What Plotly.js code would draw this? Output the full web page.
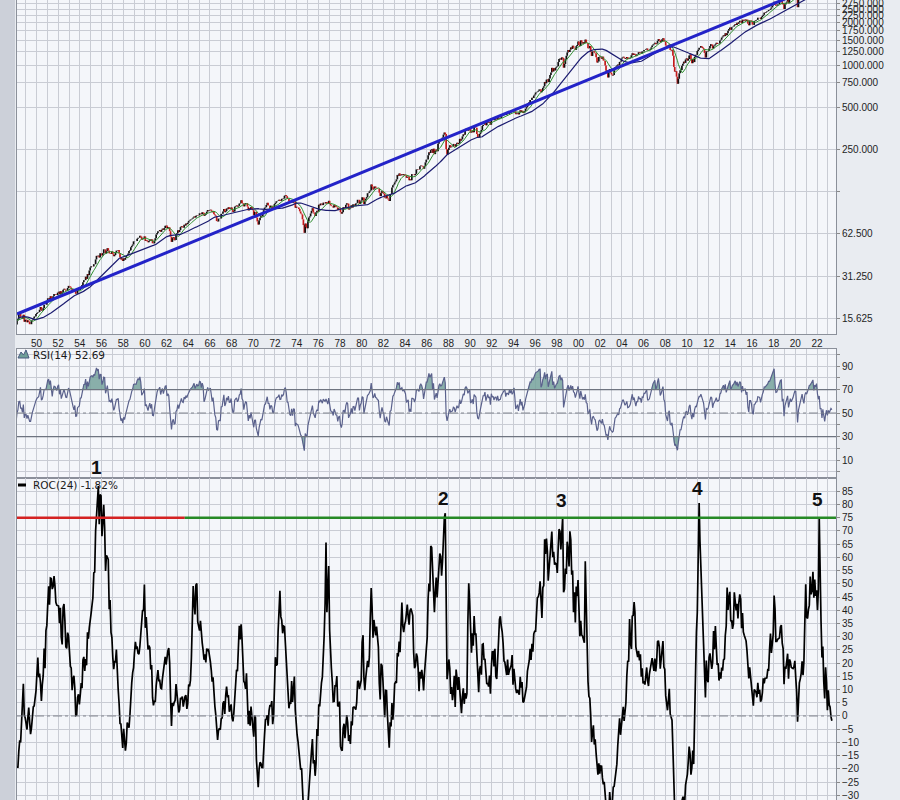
<!DOCTYPE html>
<html><head><meta charset="utf-8">
<script src="https://cdn.plot.ly/plotly-3.0.1.min.js"></script>
<style>html,body{margin:0;padding:0;background:#e9ecf1;}#chart{width:900px;height:800px;}</style>
</head><body><div id="chart"></div>
<script>
// ---- monthly closes (read/estimated), first value = Jan 1945 ----
const firstYear = 1945;
const closes1945to1949 = [
13.49,13.94,13.34,14.74,14.90,14.53,14.27,14.99,15.87,16.66,17.33,17.36,
18.66,17.52,18.70,19.20,19.25,18.43,17.75,16.52,14.96,14.75,14.69,15.30,
15.66,15.41,15.17,14.28,14.49,15.21,15.77,15.46,15.06,15.45,15.14,15.30,
14.69,14.10,15.08,15.48,16.69,16.74,15.97,15.97,15.49,16.54,14.75,15.20,
15.22,14.62,15.06,14.74,14.16,14.16,15.04,15.22,15.58,16.04,16.12,16.76];
const closes1950s = [
17.05,17.22,17.29,17.96,18.78,17.69,17.84,18.42,19.45,19.53,19.51,20.41,
21.66,21.80,21.40,22.43,21.52,20.96,22.40,23.28,23.26,22.94,22.88,23.77,
24.14,23.26,24.37,23.32,23.86,24.96,25.40,25.03,24.54,24.52,25.66,26.57,
26.38,25.90,25.29,24.62,24.54,24.14,24.75,23.32,23.35,24.54,24.76,24.81,
26.08,26.15,26.94,28.26,29.19,29.21,30.88,29.83,32.31,31.68,34.24,35.98,
36.63,36.76,36.58,37.96,37.91,41.03,43.52,43.18,43.67,42.34,45.51,45.48,
43.82,45.34,48.48,48.38,45.20,46.97,49.39,47.51,45.35,45.58,45.08,46.67,
44.72,43.26,44.11,45.74,47.43,47.37,47.91,45.22,42.42,41.06,41.72,39.99,
41.70,40.84,42.10,43.44,44.09,45.24,47.19,47.75,50.06,51.33,52.48,55.21,
55.42,55.41,55.44,57.59,58.68,58.47,60.51,59.60,56.88,57.52,58.28,59.89];
const closes1960s = [
55.61,56.12,55.34,54.37,55.83,56.92,55.51,56.96,53.52,53.39,55.54,58.11,
61.78,63.44,65.06,65.31,66.56,64.64,66.76,68.07,66.73,68.62,71.32,71.55,
68.84,69.96,69.55,65.24,59.63,54.75,58.23,59.12,56.27,56.52,62.26,63.10,
66.20,64.29,66.57,69.80,70.80,69.37,69.13,72.50,71.70,74.01,73.23,75.02,
77.04,77.80,78.98,79.46,80.37,81.69,83.18,81.83,84.18,84.86,84.42,84.75,
87.56,87.43,86.16,89.11,88.42,84.12,85.25,87.17,89.96,92.42,91.61,92.43,
92.88,91.22,89.23,91.06,86.13,84.74,83.60,77.10,76.56,80.20,80.45,80.33,
86.61,86.78,90.20,94.01,89.08,90.64,94.75,93.64,96.71,93.90,94.00,96.47,
92.24,89.36,90.20,97.59,98.68,99.58,97.74,98.86,102.67,103.41,108.37,103.86,
103.01,98.13,101.51,103.69,103.46,97.71,91.83,95.51,93.12,97.24,93.81,92.06];
const closes1970s = [
85.02,89.50,89.63,81.52,76.55,72.72,78.05,81.52,84.21,83.25,87.20,92.15,
95.88,96.75,100.31,103.95,99.63,99.70,95.58,99.03,98.34,94.23,93.99,102.09,
103.94,106.57,107.20,107.67,109.53,107.14,107.39,111.09,110.55,111.58,116.67,118.05,
116.03,111.68,111.52,106.97,104.95,104.26,108.22,104.25,108.43,108.29,95.96,97.55,
96.57,96.22,93.98,90.31,87.28,86.00,79.31,72.15,63.54,73.90,69.97,68.56,
76.98,81.59,83.36,87.30,91.15,95.19,88.75,86.88,83.87,89.04,91.24,90.19,
100.86,99.71,102.77,101.64,100.18,104.28,103.44,102.91,105.24,102.90,102.10,107.46,
102.03,99.82,98.42,98.44,96.12,100.48,98.85,96.77,96.53,92.34,94.83,95.10,
89.25,87.04,89.21,96.83,97.24,95.53,100.68,103.29,102.54,93.15,94.70,96.11,
99.93,96.28,101.59,101.76,99.08,102.91,103.81,109.32,109.32,101.82,106.16,107.94];
const closes1980s = [
114.16,113.66,102.09,106.29,111.24,114.24,121.67,122.38,125.46,127.47,140.52,135.76,
129.55,131.27,136.00,132.81,132.59,131.21,130.92,122.79,116.18,121.89,126.35,122.55,
120.40,113.11,111.96,116.44,111.88,109.61,107.09,119.51,120.42,133.71,138.54,140.64,
145.30,148.06,152.96,164.42,162.39,168.11,162.56,164.40,166.07,163.55,166.40,164.93,
163.41,157.06,159.18,160.05,150.55,153.18,150.66,166.68,166.10,166.09,163.58,167.24,
179.63,181.18,180.66,179.83,189.55,191.85,190.92,188.63,182.08,189.82,202.17,211.28,
211.78,226.92,238.90,235.52,247.35,250.84,236.12,252.93,231.32,243.98,249.22,242.17,
274.08,284.20,291.70,288.36,290.10,304.00,318.66,329.80,321.83,251.79,230.30,247.08,
257.07,267.82,258.89,261.33,262.16,273.50,272.02,261.52,271.91,278.97,273.70,277.72,
297.47,288.86,294.87,309.64,320.52,317.98,346.08,351.45,349.15,340.36,345.99,353.40];
const closes1990s = [
329.08,331.89,339.94,330.80,361.23,358.02,356.15,322.56,306.05,304.00,322.22,330.22,
343.93,367.07,375.22,375.35,389.83,371.16,387.81,395.43,387.86,392.46,375.22,417.09,
408.79,412.70,403.69,414.95,415.35,408.14,424.21,414.03,417.80,418.68,431.35,435.71,
438.78,443.38,451.67,440.19,450.19,450.53,448.13,463.56,458.93,467.83,461.79,466.45,
481.61,467.14,445.77,450.91,456.50,444.27,458.26,475.49,462.69,472.35,453.69,459.27,
470.42,487.39,500.71,514.71,533.40,544.75,562.06,561.88,584.41,581.50,605.37,615.93,
636.02,640.43,645.50,654.17,669.12,670.63,639.95,651.99,687.31,705.27,757.02,740.74,
786.16,790.82,757.12,801.34,848.28,885.14,954.31,899.47,947.28,914.62,955.40,970.43,
980.28,1049.34,1101.75,1111.75,1090.82,1133.84,1120.67,957.28,1017.01,1098.67,1163.63,1229.23,
1279.64,1238.33,1286.37,1335.18,1301.84,1372.71,1328.72,1320.41,1282.71,1362.93,1388.91,1469.25];
const closes2000s = [
1394.46,1366.42,1498.58,1452.43,1420.60,1454.60,1430.83,1517.68,1436.51,1429.40,1314.95,1320.28,
1366.01,1239.94,1160.33,1249.46,1255.82,1224.42,1211.23,1133.58,1040.94,1059.78,1139.45,1148.08,
1130.20,1106.73,1147.39,1076.92,1067.14,989.82,911.62,916.07,815.28,885.76,936.31,879.82,
855.70,841.15,848.18,916.92,963.59,974.50,990.31,1008.01,995.97,1050.71,1058.20,1111.92,
1131.13,1144.94,1126.21,1107.30,1120.68,1140.84,1101.72,1104.24,1114.58,1130.20,1173.82,1211.92,
1181.27,1203.60,1180.59,1156.85,1191.50,1191.33,1234.18,1220.33,1228.81,1207.01,1249.48,1248.29,
1280.08,1280.66,1294.83,1310.61,1270.09,1270.20,1276.66,1303.82,1335.85,1377.94,1400.63,1418.30,
1438.24,1406.82,1420.86,1482.37,1530.62,1503.35,1455.27,1473.99,1526.75,1549.38,1481.14,1468.36,
1378.55,1330.63,1322.70,1385.59,1400.38,1280.00,1267.38,1282.83,1166.36,968.75,896.24,903.25,
825.88,735.09,797.87,872.81,919.14,919.32,987.48,1020.62,1057.08,1036.19,1095.63,1115.10];
const closes2010s = [
1073.87,1104.49,1169.43,1186.69,1089.41,1030.71,1101.60,1049.33,1141.20,1183.26,1180.55,1257.64,
1286.12,1327.22,1325.83,1363.61,1345.20,1320.64,1292.28,1218.89,1131.42,1253.30,1246.96,1257.60,
1312.41,1365.68,1408.47,1397.91,1310.33,1362.16,1379.32,1406.58,1440.67,1412.16,1416.18,1426.19,
1498.11,1514.68,1569.19,1597.57,1630.74,1606.28,1685.73,1632.97,1681.55,1756.54,1805.81,1848.36,
1782.59,1859.45,1872.34,1883.95,1923.57,1960.23,1930.67,2003.37,1972.29,2018.05,2067.56,2058.90,
1994.99,2104.50,2067.89,2085.51,2107.39,2063.11,2103.84,1972.18,1920.03,2079.36,2080.41,2043.94,
1940.24,1932.23,2059.74,2065.30,2096.95,2098.86,2173.60,2170.95,2168.27,2126.15,2198.81,2238.83,
2278.87,2363.64,2362.72,2384.20,2411.80,2423.41,2470.30,2471.65,2519.36,2575.26,2647.58,2673.61,
2823.81,2713.83,2640.87,2648.05,2705.27,2718.37,2816.29,2901.52,2913.98,2711.74,2760.17,2506.85,
2704.10,2784.49,2834.40,2945.83,2752.06,2941.76,2980.38,2926.46,2976.74,3037.56,3140.98,3230.78];
const closes2020s = [
3225.52,2954.22,2584.59,2912.43,3044.31,3100.29,3271.12,3500.31,3363.00,3269.96,3621.63,3756.07,
3714.24,3811.15,3972.89,4181.17,4204.11,4297.50,4395.26,4522.68,4307.54,4605.38,4567.00,4766.18,
4515.55,4373.94,4530.41,4131.93,4132.15,3785.38,4130.29,3955.00,3585.62,3871.98,4080.11,3839.50,
4076.60,3970.15,4109.31,4169.48,4127.60];

// ---- axis ticks ----
const priceTickValues = [15.625,31.25,62.5,125,250,500,750,1000,1250,1500,1750,2000,2250,2500,2750];
const priceTickLabels = ['15.625','31.250','62.500','','250.000','500.000','750.000','1000.000','1250.000','1500.000','1750.000','2000.000','2250.000','2500.000','2750.000'];
const rsiTickValues = [0,10,20,30,40,50,60,70,80,90,100];
const rsiTickLabels = ['','10','','30','','50','','70','','90',''];
const rocTickValues = [-30,-25,-20,-15,-10,-5,0,5,10,15,20,25,30,35,40,45,50,55,60,65,70,75,80,85];

// ---- overlays ----
const trendDates = ['1948-03-15','2023-10-01'];
const trendValues = [16.75,4175];
const rsiLevels = {upper:70, middle:50, lower:30};
const rocSignalLevel = 75;
const rocSignalRedDates = ['1948-03-15','1963-09-05'];
const rocSignalGreenDates = ['1963-09-05','2023-10-01'];
const peakLabels = ['1','2','3','4','5'];
const peakDates = ['1955-07-20','1987-08-01','1998-06-20','2010-12-05','2022-02-01'];
const peakLabelRows = [467,498,500,489,499];   // label centre, px from top
const rsiLegendText = 'RSI(14) 52.69';
const rocLegendText = 'ROC(24) -1.82%';
const xRange = ['1948-03-15','2023-10-01'];

// ---- derived series ----
const closes = [].concat(closes1945to1949,closes1950s,closes1960s,closes1970s,closes1980s,closes1990s,closes2000s,closes2010s,closes2020s);
const dates = closes.map((c,i)=>{const y=firstYear+Math.floor(i/12);const m=(i%12)+1;return y+'-'+(m<10?'0':'')+m+'-15';});
const opens = closes.map((c,i)=> i===0? c : closes[i-1]);
const highs = closes.map((c,i)=> Math.max(c,opens[i]));
const lows = closes.map((c,i)=> Math.min(c,opens[i]));
function sma(v,n){return v.map((x,i)=>{if(i<n-1)return null;let s=0;for(let k=i-n+1;k<=i;k++)s+=v[k];return s/n;});}
function roc(v,n){return v.map((x,i)=> i<n? null : (x/v[i-n]-1)*100);}
function rsi(v,n){const out=v.map(()=>null);let g=0,l=0;for(let i=1;i<=n;i++){const d=v[i]-v[i-1];if(d>0)g+=d;else l-=d;}g/=n;l/=n;out[n]=100-100/(1+g/l);
  for(let i=n+1;i<v.length;i++){const d=v[i]-v[i-1];g=(g*(n-1)+Math.max(d,0))/n;l=(l*(n-1)+Math.max(-d,0))/n;out[i]=l===0?100:100-100/(1+g/l);}return out;}
const sma10 = sma(closes,10), sma40 = sma(closes,40);
const roc24 = roc(closes,24);
const rsi14 = rsi(closes,14);
const rsiAbove = rsi14.map(v=> v===null?null:Math.max(v,rsiLevels.upper));
const rsiBelow = rsi14.map(v=> v===null?null:Math.min(v,rsiLevels.lower));
const upperBase = rsi14.map(v=> v===null?null:rsiLevels.upper);
const lowerBase = rsi14.map(v=> v===null?null:rsiLevels.lower);

const gridC = '#c9ccd4', borderC = '#8b909a';
const tickFont = {family:'Liberation Sans, Arial, sans-serif', size:10, color:'#1e1e1e'};
const skip = 'skip';
const fillC = 'rgba(118,162,155,0.85)';

const traces = [
  {type:'ohlc', x:dates, open:opens, high:highs, low:lows, close:closes, xaxis:'x', yaxis:'y',
   increasing:{line:{color:'#111111', width:1.7}}, decreasing:{line:{color:'#c41a1a', width:1.7}}, tickwidth:0, hoverinfo:skip, showlegend:false},
  {type:'scatter', mode:'lines', x:dates, y:sma10, xaxis:'x', yaxis:'y', line:{color:'#2f8f2f', width:1}, hoverinfo:skip, showlegend:false},
  {type:'scatter', mode:'lines', x:dates, y:sma40, xaxis:'x', yaxis:'y', line:{color:'#1b1b70', width:1.2}, hoverinfo:skip, showlegend:false},
  {type:'scatter', mode:'lines', x:trendDates, y:trendValues, xaxis:'x', yaxis:'y', line:{color:'#2323c8', width:3}, hoverinfo:skip, showlegend:false},

  {type:'scatter', mode:'lines', x:dates, y:upperBase, xaxis:'x2', yaxis:'y2', line:{width:0, color:'rgba(0,0,0,0)'}, hoverinfo:skip, showlegend:false},
  {type:'scatter', mode:'lines', x:dates, y:rsiAbove, xaxis:'x2', yaxis:'y2', fill:'tonexty', fillcolor:fillC, line:{width:0, color:'rgba(0,0,0,0)'}, hoverinfo:skip, showlegend:false},
  {type:'scatter', mode:'lines', x:dates, y:lowerBase, xaxis:'x2', yaxis:'y2', line:{width:0, color:'rgba(0,0,0,0)'}, hoverinfo:skip, showlegend:false},
  {type:'scatter', mode:'lines', x:dates, y:rsiBelow, xaxis:'x2', yaxis:'y2', fill:'tonexty', fillcolor:fillC, line:{width:0, color:'rgba(0,0,0,0)'}, hoverinfo:skip, showlegend:false},
  {type:'scatter', mode:'lines', x:dates, y:rsi14, xaxis:'x2', yaxis:'y2', line:{color:'#5a618c', width:1.2}, hoverinfo:skip, showlegend:false},

  {type:'scatter', mode:'lines', x:dates, y:roc24, xaxis:'x3', yaxis:'y3', line:{color:'#000000', width:1.7}, hoverinfo:skip, showlegend:false}
];

function px2x(px){return (px-17)/819;}
function px2y(py){return 1-py/800;}

const xCommon = {type:'date', range:xRange, tick0:'1950-01-01', dtick:'M24', tickformat:'%y',
  showgrid:true, gridcolor:gridC, gridwidth:1, minor:{dtick:'M12', showgrid:true, gridcolor:gridC, gridwidth:1},
  ticks:'', zeroline:false, showline:true, mirror:true, linecolor:borderC, linewidth:1, tickfont:tickFont, fixedrange:true};
const yCommon = {side:'right', showgrid:true, gridcolor:gridC, gridwidth:1, zeroline:false, ticks:'outside', ticklen:3, tickcolor:'#8a8a8a',
  showline:true, mirror:true, linecolor:borderC, linewidth:1, tickfont:tickFont, fixedrange:true, ticklabeloverflow:'allow'};

const shapes = [
  {type:'rect', xref:'paper', yref:'paper', x0:px2x(0), x1:px2x(15), y0:0, y1:1, fillcolor:'#ccd0d9', line:{width:0}, layer:'below'},
  {type:'line', xref:'x2 domain', yref:'y2', x0:0, x1:1, y0:rsiLevels.upper, y1:rsiLevels.upper, line:{color:'#6e7480', width:1.2}},
  {type:'line', xref:'x2 domain', yref:'y2', x0:0, x1:1, y0:rsiLevels.lower, y1:rsiLevels.lower, line:{color:'#6e7480', width:1.2}},
  {type:'line', xref:'x2 domain', yref:'y2', x0:0, x1:1, y0:rsiLevels.middle, y1:rsiLevels.middle, line:{color:'#80858f', width:1, dash:'dashdot'}},
  {type:'line', xref:'x3 domain', yref:'y3', x0:0, x1:1, y0:0, y1:0, line:{color:'#80858f', width:1, dash:'dashdot'}},
  {type:'line', xref:'x3', yref:'y3', x0:rocSignalRedDates[0], x1:rocSignalRedDates[1], y0:rocSignalLevel, y1:rocSignalLevel, line:{color:'#d42222', width:2.5}},
  {type:'line', xref:'x3', yref:'y3', x0:rocSignalGreenDates[0], x1:rocSignalGreenDates[1], y0:rocSignalLevel, y1:rocSignalLevel, line:{color:'#268a26', width:2.5}},
  {type:'path', xref:'paper', yref:'paper', path:'M '+px2x(18)+','+px2y(358)+' L '+px2x(21)+','+px2y(352)+' L '+px2x(23.5)+','+px2y(355)+' L '+px2x(26)+','+px2y(350)+' L '+px2x(29)+','+px2y(358)+' Z', fillcolor:'#6f9f98', line:{color:'#4a5a80', width:1}},
  {type:'line', xref:'paper', yref:'paper', x0:px2x(18), x1:px2x(26), y0:px2y(485), y1:px2y(485), line:{color:'#000', width:3}}
];

const annotations = peakLabels.map((t,i)=>({xref:'x3', yref:'paper', x:peakDates[i], y:px2y(peakLabelRows[i]), text:'<b>'+t+'</b>', showarrow:false,
  font:{family:'Liberation Sans, Arial, sans-serif', size:19, color:'#111'}, xanchor:'center', yanchor:'middle'}));
annotations.push({xref:'paper', yref:'paper', x:px2x(31), y:px2y(355), text:rsiLegendText, showarrow:false, xanchor:'left', yanchor:'middle',
  font:{family:'DejaVu Sans, Verdana, sans-serif', size:10.5, color:'#1a1a1a'}});
annotations.push({xref:'paper', yref:'paper', x:px2x(31), y:px2y(485), text:rocLegendText, showarrow:false, xanchor:'left', yanchor:'middle',
  font:{family:'DejaVu Sans, Verdana, sans-serif', size:10.5, color:'#1a1a1a'}});

const layout = {
  width:900, height:800, margin:{l:17, r:64, t:0, b:0},
  paper_bgcolor:'#e9ecf1', plot_bgcolor:'#f4f6fa', showlegend:false, hovermode:false,
  xaxis:Object.assign({}, xCommon, {domain:[0,1], anchor:'y', rangeslider:{visible:false}, showticklabels:true}),
  xaxis2:Object.assign({}, xCommon, {domain:[0,1], anchor:'y2', matches:'x', showticklabels:false}),
  xaxis3:Object.assign({}, xCommon, {domain:[0,1], anchor:'y3', matches:'x', showticklabels:false}),
  yaxis:Object.assign({}, yCommon, {domain:[0.5825,1], anchor:'x', type:'log', range:[1.0813,3.4636], tickvals:priceTickValues, ticktext:priceTickLabels}),
  yaxis2:Object.assign({}, yCommon, {domain:[0.4025,0.56375], anchor:'x2', range:[-5.3,104.5], tickvals:rsiTickValues, ticktext:rsiTickLabels}),
  yaxis3:Object.assign({}, yCommon, {domain:[0,0.4025], anchor:'x3', range:[-31.8,90.05], tickvals:rocTickValues}),
  shapes:shapes, annotations:annotations
};

Plotly.newPlot('chart', traces, layout, {staticPlot:true, displayModeBar:false});
</script></body></html>
